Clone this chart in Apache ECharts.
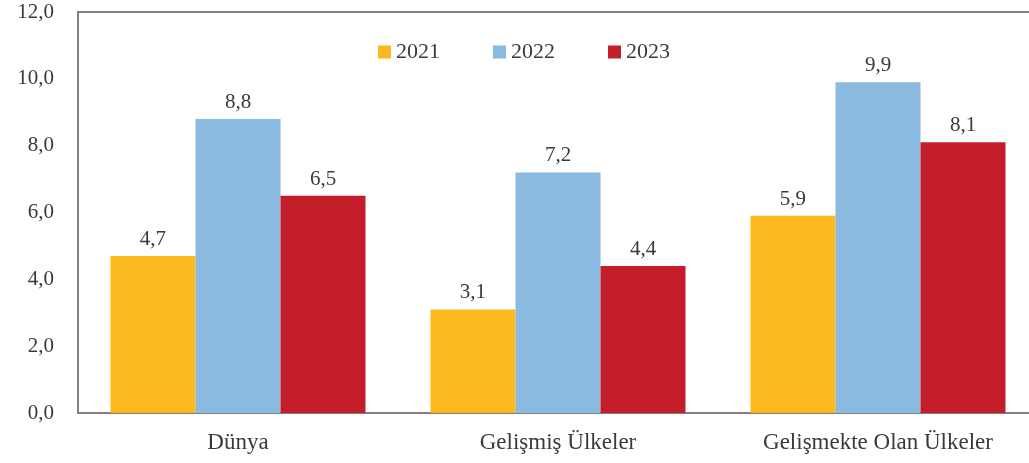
<!DOCTYPE html>
<html>
<head>
<meta charset="utf-8">
<script src="https://cdn.jsdelivr.net/npm/echarts@6/dist/echarts.min.js"></script>
<style>
html, body { margin: 0; padding: 0; background: #fff; overflow: hidden; }
#main { width: 1044px; height: 463px; }
</style>
</head>
<body>
<div id="main"></div>
<script>
var categories = ['Dünya', 'Gelişmiş Ülkeler', 'Gelişmekte Olan Ülkeler'];
var years = ['2021', '2022', '2023'];
var v2021 = [4.7, 3.1, 5.9];
var v2022 = [8.8, 7.2, 9.9];
var v2023 = [6.5, 4.4, 8.1];
var colors = ['#FBB91F', '#8BBAE0', '#C41E2A'];

function fmt(v) {
    return Number(v).toFixed(1).replace('.', ',');
}

// grafik alanı pencereden biraz taşıyor, sağ kenar görünmüyor
var myChart = echarts.init(document.getElementById('main'));
var font = 'Liberation Serif';
var series = [v2021, v2022, v2023].map(function (d, i) {
    return {
        name: years[i],
        type: 'bar',
        data: d,
        barGap: '0%',
        barCategoryGap: '20.3%',
        itemStyle: { color: colors[i] },
        label: {
            show: true,
            position: 'top',
            distance: 6,
            color: '#3a3a3a',
            fontFamily: font,
            fontSize: 21,
            formatter: function (p) { return fmt(p.value); }
        }
    };
});

var option = {
    animation: false,
    textStyle: { fontFamily: font },
    legend: {
        data: years,
        left: 378,
        top: 41,
        padding: 0,
        itemWidth: 13,
        itemHeight: 13,
        itemGap: 53,
        icon: 'rect',
        textStyle: { color: '#3a3a3a', fontSize: 22, fontFamily: font }
    },
    grid: {
        left: 78,
        top: 12,
        width: 960,
        height: 401,
        show: true,
        borderColor: '#808080',
        borderWidth: 2
    },
    xAxis: {
        type: 'category',
        data: categories,
        axisLine: { lineStyle: { color: '#808080', width: 2 } },
        axisTick: { show: false },
        axisLabel: { color: '#3a3a3a', fontSize: 23, fontFamily: font, margin: 18 }
    },
    yAxis: {
        type: 'value',
        min: 0,
        max: 12,
        interval: 2,
        splitLine: { show: false },
        axisLine: { show: false },
        axisTick: { show: false },
        axisLabel: {
            color: '#3a3a3a',
            fontSize: 21,
            fontFamily: font,
            margin: 24,
            formatter: fmt
        }
    },
    series: series
};
myChart.setOption(option);
</script>
</body>
</html>
